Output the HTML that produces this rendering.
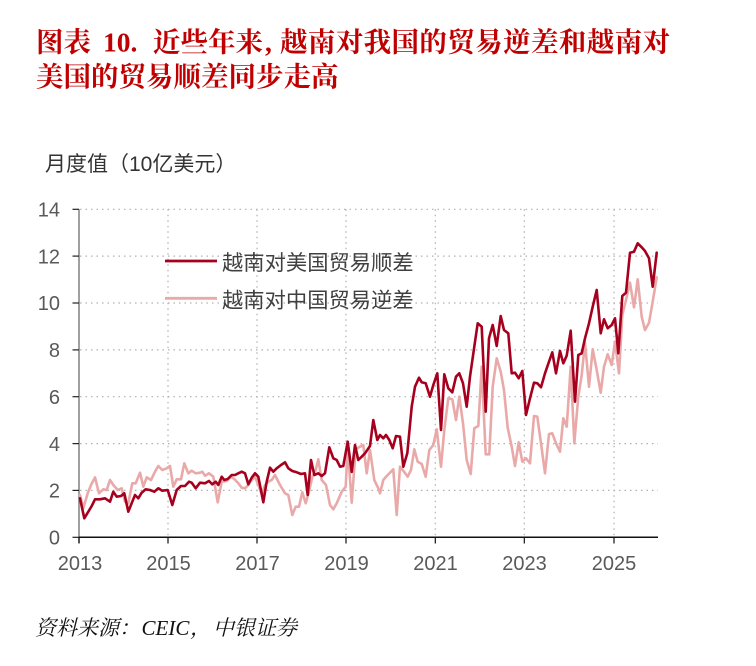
<!DOCTYPE html>
<html>
<head>
<meta charset="utf-8">
<style>
  html, body { margin: 0; padding: 0; background: #ffffff; }
  body { width: 756px; height: 666px; overflow: hidden; }
  svg { display: block; }
  .title { font-family: "Liberation Serif", "Noto Serif CJK SC", serif; font-weight: bold; font-size: 27.5px; fill: #c00000; }
  .sans { font-family: "Liberation Sans", "Noto Sans CJK SC", sans-serif; }
  .tick { font-family: "Liberation Sans", "Noto Sans CJK SC", sans-serif; font-size: 20px; fill: #595959; }
  .src { font-family: "Liberation Serif", "Noto Serif CJK SC", serif; font-style: italic; font-size: 21px; fill: #111111; }
</style>
</head>
<body>
<svg width="756" height="666" viewBox="0 0 756 666" xmlns="http://www.w3.org/2000/svg">
  <rect x="0" y="0" width="756" height="666" fill="#ffffff"/>

  <!-- Title -->
  <text class="title" x="36" y="51.5">图表</text>
  <text class="title" x="103" y="51.5">10.</text>
  <text class="title" x="153" y="51.5">近些年来</text>
  <text class="title" x="265" y="51.5">,</text>
  <text class="title" x="280" y="51.5" textLength="390" lengthAdjust="spacing">越南对我国的贸易逆差和越南对</text>
  <text class="title" x="36" y="86">美国的贸易顺差同步走高</text>

  <!-- Axis title -->
  <text class="sans" x="45" y="171" font-size="21" fill="#333333">月度值（10亿美元）</text>

  <!-- Gridlines -->
  <g stroke="#b0b0b0" stroke-width="1.2" stroke-dasharray="1.5,4" fill="none">
    <line x1="80" y1="490.4" x2="658" y2="490.4"/>
    <line x1="80" y1="443.6" x2="658" y2="443.6"/>
    <line x1="80" y1="396.7" x2="658" y2="396.7"/>
    <line x1="80" y1="349.9" x2="658" y2="349.9"/>
    <line x1="80" y1="303.0" x2="658" y2="303.0"/>
    <line x1="80" y1="256.1" x2="658" y2="256.1"/>
    <line x1="80" y1="209.3" x2="658" y2="209.3"/>
    <line x1="168" y1="209.3" x2="168" y2="537"/>
    <line x1="257" y1="209.3" x2="257" y2="537"/>
    <line x1="346" y1="209.3" x2="346" y2="537"/>
    <line x1="435.3" y1="209.3" x2="435.3" y2="537"/>
    <line x1="524.3" y1="209.3" x2="524.3" y2="537"/>
    <line x1="614" y1="209.3" x2="614" y2="537"/>
  </g>

  <!-- Y axis -->
  <line x1="79" y1="209.3" x2="79" y2="543" stroke="#808080" stroke-width="1.5"/>
  <g stroke="#222222" stroke-width="1.2">
    <line x1="72.5" y1="537.3" x2="79" y2="537.3"/>
    <line x1="72.5" y1="490.4" x2="79" y2="490.4"/>
    <line x1="72.5" y1="443.6" x2="79" y2="443.6"/>
    <line x1="72.5" y1="396.7" x2="79" y2="396.7"/>
    <line x1="72.5" y1="349.9" x2="79" y2="349.9"/>
    <line x1="72.5" y1="303.0" x2="79" y2="303.0"/>
    <line x1="72.5" y1="256.1" x2="79" y2="256.1"/>
    <line x1="72.5" y1="209.3" x2="79" y2="209.3"/>
  </g>

  <!-- X axis -->
  <line x1="79" y1="537.3" x2="658" y2="537.3" stroke="#111111" stroke-width="1.5"/>
  <g stroke="#111111" stroke-width="1.2">
    <line x1="79" y1="537.3" x2="79" y2="543.5"/>
    <line x1="168" y1="537.3" x2="168" y2="543.5"/>
    <line x1="257" y1="537.3" x2="257" y2="543.5"/>
    <line x1="346" y1="537.3" x2="346" y2="543.5"/>
    <line x1="435.3" y1="537.3" x2="435.3" y2="543.5"/>
    <line x1="524.3" y1="537.3" x2="524.3" y2="543.5"/>
    <line x1="614" y1="537.3" x2="614" y2="543.5"/>
  </g>

  <!-- Y tick labels -->
  <g class="tick" text-anchor="end">
    <text x="60" y="544.5">0</text>
    <text x="60" y="497.6">2</text>
    <text x="60" y="450.8">4</text>
    <text x="60" y="403.9">6</text>
    <text x="60" y="357.1">8</text>
    <text x="60" y="310.2">10</text>
    <text x="60" y="263.3">12</text>
    <text x="60" y="216.5">14</text>
  </g>

  <!-- X tick labels -->
  <g class="tick" text-anchor="middle">
    <text x="80" y="570">2013</text>
    <text x="168.5" y="570">2015</text>
    <text x="257.5" y="570">2017</text>
    <text x="346.5" y="570">2019</text>
    <text x="435.5" y="570">2021</text>
    <text x="524.5" y="570">2023</text>
    <text x="614" y="570">2025</text>
  </g>

  <!-- Pink series -->
  <polyline fill="none" stroke="#eaa9a9" stroke-width="2.6" stroke-linejoin="round" stroke-linecap="round" points="
80,495 83.3,508.3 87.7,493.3 91,485 95,477.3 99,493.3 103.3,489.3 106.7,490 110,480 113.3,485 117.7,490 121.7,488.3
125,501.7 128.3,503.3 132.3,483.3 135.7,483.3 140,472.7 143.3,486.7 146.7,477.3 151,480 155,471.7 158.3,466 162.3,470
166.7,468.3 170,466 173.3,486.7 176.7,479.3 181,479.3 184.3,463.3 188.3,473.3 191.7,470.7 195.7,473.3 200,472.7
202.3,471.7 205,475.7 209,473.3 213.3,476.7 217.7,502.3 221.7,481.7 226.7,481 231,476.7 234.3,479 238.3,483.3
241.7,487.7 245,488.3 248.3,485 251.7,480 255,476.7 258.3,485 261.7,494.3 265,485 268.3,481.7 271.7,480 275,475
278.3,481.7 281,486.7 285,493.3 288.3,495 292.3,515 295.7,506.7 299,506.7 302.3,492.3 305.7,503.3 309,491.7
312.3,476.7 315.7,470 318.3,459.3 321.7,480 326,485 330,505 333.3,509.3 336.7,503.3 341.7,491.7 345.7,486.7
347.7,446.7 351.7,502.7 355.7,449.3 360,446.7 363.3,445 366.7,473.3 370,450 374.3,480 378.3,488.3
380,493.3 383.3,480 386.7,476 390,472.7 393.3,469.3 396.7,515 400,466.7 404,471.7 407.7,476.7 411,470
414.3,449.3 417.7,461.7 421.7,464 425.7,476.7 429.3,450 433.3,445 436.7,429.3 441,466.7 444.3,430 448.3,398.3
452.3,399.3 456,420 459.3,396.7 463,423.3 466.7,460 470.7,474 474.3,428.3 478.3,426 481.7,366.7 485.7,454.3
489.3,454.3 492.7,386.7 496.7,358.3 500.7,371.7 504,390 507.7,427.7 511.7,446.7 515,466 518.7,442.3 522.3,461.7
526,458.3 530,463.3 534,416 537.3,416.7 541,443.3 545,473.3 549,434 552.3,433.3 556,443.3 560,451.7 563.3,418.3
566.7,426.7 570.7,366.7 574.3,443.3 578.3,396.7 581.7,375 585,342.7 589,386.7 592.7,349.3 596.7,370 600.7,392.7
604,366.7 607.7,354.3 611.7,365 615,341.7 619,373.3 622.3,315 626,300 630,282.7 634,307.3 637.7,279.3 641.7,316.7
645,330 649,322.7 652.7,301.7 656.7,277.3"/>

  <!-- Dark red series -->
  <polyline fill="none" stroke="#a6001e" stroke-width="2.6" stroke-linejoin="round" stroke-linecap="round" points="
80,498.3 84.3,518.3 88.3,511.7 91.7,506 95,499.3 100,499.3 105,498.3 110,501.7 113.3,491.7 116.7,496.7 121,496
124.3,493.3 128.3,511.7 132.3,501.7 135,495 138.3,498.3 141.7,492.7 145.7,489.3 150,490 154.3,491.7 158.3,488.3
162.3,490.7 167.7,490 172.3,505 176.7,490 181,486 185,486 189,481.7 191.7,482.7 195.7,488.3 200,482.7 205,483.3
209,481 212.3,484.3 215.7,481.7 218.3,485 221.7,476.7 224.3,480 227.7,479 231.7,475 235,475 238.3,473.3 241.7,471.7
245,473.3 248.3,484.3 251.7,477.7 255,473.3 258.3,476.7 260.3,486.7 263.3,502.3 266.7,481.7 270,467.7 273.3,471.7
276.7,468.3 281,465 285,462.3 288.3,468.3 292.3,471 296.7,472.3 301,474 305,473.3 307.7,495 311,460 314.3,475
318.3,473.3 321.7,476 325,473.3 329.3,447.3 333.3,458.3 336.7,460 340,466.7 343.3,466 347.7,441.7 351.7,472
355,445 358.3,460 361.7,456.7 365,453.3 370,446 373.3,420 377.3,440 380,435 383.3,438.3 386,435 389.3,440
392.7,448.3 396,436 400,436.7 403.3,466.7 407.3,453.3 411.7,406.7 415,386.7 419,377.7 421.7,382.3 425.7,383.3
430,396.7 433.3,385 437.3,373.3 441,430 444.3,374.3 448.3,388.3 452.3,392.3 456,376.7 459.3,373.3 463,383.3
466.7,406.7 470,376.7 474.3,346.7 477.7,323.3 481.7,326.7 485.7,411.7 489,338.3 492.7,325 496.7,346 500.7,316
504,330 508.3,333.3 511.7,373.3 515,372.7 518.7,378.3 522.3,371 526,415 530,398.3 534,382.7 537.3,383.3 541,387.3
545,373.3 549,361.7 552.3,352.3 556,373.3 560,351 563.3,363.3 566.7,355.7 570.7,330.7 575,401.7 578.3,355
581.7,353.3 585,338.3 589,323.3 592.7,306.7 596.7,290 600.7,333.3 604,319.3 607.7,328.3 611.7,325 615,318.3
618.3,353.3 622.3,296 626,292.7 630,252.7 634,251.7 637.7,243.3 641.7,247.3 645,251 649,258.3 652.7,286.7 656.7,252.7"/>

  <!-- Legend -->
  <line x1="165" y1="261" x2="217" y2="261" stroke="#a6001e" stroke-width="2.8"/>
  <text class="sans" x="222" y="270" font-size="21.3" fill="#404040">越南对美国贸易顺差</text>
  <line x1="165" y1="298.3" x2="217" y2="298.3" stroke="#eaa9a9" stroke-width="2.8"/>
  <text class="sans" x="222" y="307.3" font-size="21.3" fill="#404040">越南对中国贸易逆差</text>

  <!-- Source -->
  <text class="src" x="35" y="635">资料来源：</text>
  <text class="src" x="141.5" y="635">CEIC</text>
  <text class="src" x="190" y="635">，</text>
  <text class="src" x="213" y="635">中银证券</text>
</svg>
</body>
</html>
